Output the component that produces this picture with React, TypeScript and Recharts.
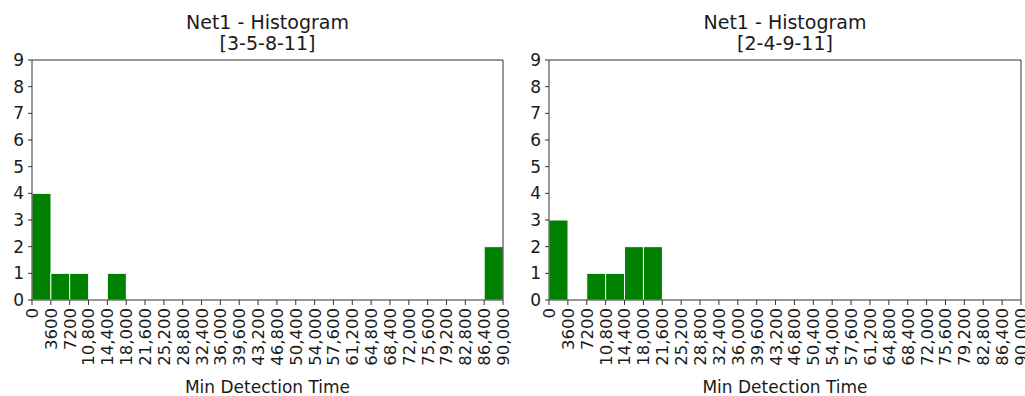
import React from 'react';
import { BarChart, Bar, XAxis, YAxis, ReferenceLine } from 'recharts';

const BIN_MIDS = [1800,5400,9000,12600,16200,19800,23400,27000,30600,34200,37800,41400,45000,48600,52200,55800,59400,63000,66600,70200,73800,77400,81000,84600,88200];
const LEFT_COUNTS = [4,1,1,0,1,0,0,0,0,0,0,0,0,0,0,0,0,0,0,0,0,0,0,0,2];
const RIGHT_COUNTS = [3,0,1,1,2,2,0,0,0,0,0,0,0,0,0,0,0,0,0,0,0,0,0,0,0];
const X_EDGES = [0,3600,7200,10800,14400,18000,21600,25200,28800,32400,36000,39600,43200,46800,50400,54000,57600,61200,64800,68400,72000,75600,79200,82800,86400,90000];
const X_TICK_LABELS = ['0','3600','7200','10,800','14,400','18,000','21,600','25,200','28,800','32,400','36,000','39,600','43,200','46,800','50,400','54,000','57,600','61,200','64,800','68,400','72,000','75,600','79,200','82,800','86,400','90,000'];
const Y_TICKS = [0,1,2,3,4,5,6,7,8,9];
const X_MAX = 90000;
const Y_MAX = 9;
const TITLE = 'Net1 - Histogram';
const LEFT_SUB = '[3-5-8-11]';
const RIGHT_SUB = '[2-4-9-11]';
const X_LABEL = 'Min Detection Time';

const FONT = '"DejaVu Sans", sans-serif';
const TEXT = '#1a1a1a';
const LINE = '#333333';

const XTick = (props: any) => {
  const { x, y, payload } = props;
  const idx = X_EDGES.indexOf(payload.value);
  return (
    <g transform={`translate(${x},${y})`}>
      <text transform="rotate(-90)" x={0} y={0} dy="0.36em" textAnchor="end" fontSize={16.5} fontFamily={FONT} fill={TEXT}>
        {X_TICK_LABELS[idx]}
      </text>
    </g>
  );
};

const YTick = (props: any) => {
  const { x, y, payload } = props;
  return (
    <text x={x} y={y} dy="0.36em" textAnchor="end" fontSize={17} fontFamily={FONT} fill={TEXT}>
      {payload.value}
    </text>
  );
};

type PanelProps = { left: number; width: number; yw: number; mr: number; counts: number[]; sub: string };

const Panel = ({ left, width, yw, mr, counts, sub }: PanelProps) => {
  const data = BIN_MIDS.map((m, i) => ({ mid: m, count: counts[i] }));
  const plotLeft = yw;
  const plotRight = width - mr;
  const cx = (plotLeft + plotRight) / 2;
  return (
    <div style={{ position: 'absolute', left, top: 0, width, height: 396 }}>
      <BarChart width={width} height={396} data={data} margin={{ top: 60, right: mr, left: 0, bottom: 26 }} barCategoryGap={0} barGap={0}>
        <XAxis dataKey="mid" type="number" domain={[0, X_MAX]} ticks={X_EDGES} interval={0} allowDataOverflow
          height={70} tickSize={5} tickMargin={3} tick={<XTick />} axisLine={{ stroke: LINE, strokeWidth: 1 }} tickLine={{ stroke: LINE }} />
        <YAxis width={yw} domain={[0, Y_MAX]} ticks={Y_TICKS} interval={0} tickSize={4} tickMargin={4} tick={<YTick />} axisLine={{ stroke: LINE, strokeWidth: 1 }} tickLine={{ stroke: LINE }} />
        <Bar dataKey="count" fill="#008000" stroke="#ffffff" strokeWidth={1} isAnimationActive={false} />
        <ReferenceLine y={Y_MAX} stroke={LINE} strokeWidth={1} ifOverflow="visible" />
        <ReferenceLine x={X_MAX} stroke={LINE} strokeWidth={1} ifOverflow="visible" />
      </BarChart>
      <div style={{ position: 'absolute', left: cx - 200, width: 400, top: 12, textAlign: 'center', fontFamily: FONT, fontSize: 19, lineHeight: '21px', color: TEXT }}>
        <div>{TITLE}</div>
        <div>{sub}</div>
      </div>
      <div style={{ position: 'absolute', left: cx - 200, width: 400, top: 377, textAlign: 'center', fontFamily: FONT, fontSize: 17, lineHeight: '20px', color: TEXT }}>
        {X_LABEL}
      </div>
    </div>
  );
};

export default function App() {
  return (
    <div style={{ position: 'absolute', left: 0, top: 0, width: 1025, height: 396, background: '#fff', overflow: 'hidden' }}>
      <Panel left={0} width={512} yw={32} mr={9} counts={LEFT_COUNTS} sub={LEFT_SUB} />
      <Panel left={512} width={513} yw={37} mr={4} counts={RIGHT_COUNTS} sub={RIGHT_SUB} />
    </div>
  );
}
